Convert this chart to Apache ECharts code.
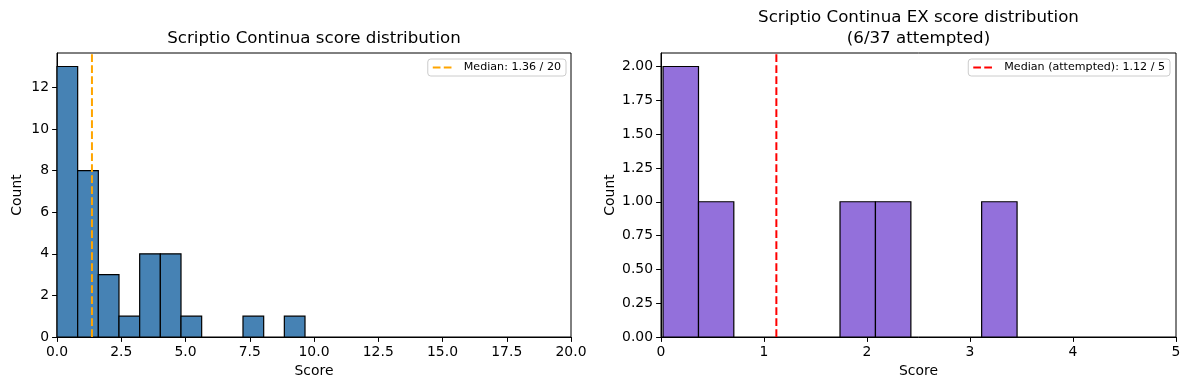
<!DOCTYPE html>
<html><head><meta charset="utf-8">
<script src="https://cdn.jsdelivr.net/npm/echarts@6/dist/echarts.min.js"></script>
<style>html,body{margin:0;padding:0;background:#fff}#c{width:1189px;height:390px}</style>
</head><body><div id="c"></div>
<script>
// ---- data ----
const leftBinEdges = [0, 0.804, 1.608, 2.412, 3.217, 4.021, 4.825, 5.629, 6.433, 7.237, 8.042, 8.846, 9.65];
const leftCounts = [13, 8, 3, 1, 4, 4, 1, 0, 0, 1, 0, 1];
const leftMedian = 1.36;
const leftLegend = 'Median: 1.36 / 20';
const rightBinEdges = [0.02, 0.364, 0.707, 1.051, 1.395, 1.738, 2.082, 2.426, 2.769, 3.113, 3.457];
const rightCounts = [2, 1, 0, 0, 0, 1, 1, 0, 0, 1];
const rightMedian = 1.12;
const rightLegend = 'Median (attempted): 1.12 / 5';
const leftXTicks = [0, 2.5, 5, 7.5, 10, 12.5, 15, 17.5, 20];
const leftYTicks = [0, 2, 4, 6, 8, 10, 12];
const rightXTicks = [0, 1, 2, 3, 4, 5];
const rightYTicks = [0, 0.25, 0.5, 0.75, 1, 1.25, 1.5, 1.75, 2];
const leftTitle = 'Scriptio Continua score distribution';
const rightTitle = 'Scriptio Continua EX score distribution\n(6/37 attempted)';

const FONT = 'DejaVu Sans';
const leftYMax = Math.max(...leftCounts) * 1.05;
const rightYMax = Math.max(...rightCounts) * 1.05;

function bins(edges, counts) {
  return counts.map((c, i) => [edges[i], edges[i + 1], c]);
}
function makeRender(color) {
  return function (params, api) {
    const c = api.value(2);
    if (!c) return null;
    const p0 = api.coord([api.value(0), c]);
    const p1 = api.coord([api.value(1), 0]);
    return {
      type: 'rect',
      shape: { x: p0[0], y: p0[1], width: p1[0] - p0[0], height: p1[1] - p0[1] },
      style: { fill: color, stroke: '#000', lineWidth: 1.2 }
    };
  };
}
function xAxis(idx, min, max, ticks, dec) {
  return {
    type: 'value', gridIndex: idx, min: min, max: max,
    name: 'Score', nameLocation: 'middle', nameGap: 27,
    nameTextStyle: { fontFamily: FONT, fontSize: 13.9, color: '#000' },
    axisLine: { show: true, lineStyle: { color: '#000', width: 1 } },
    axisTick: { show: true, length: 4.9, lineStyle: { color: '#000', width: 1 }, customValues: ticks },
    axisLabel: { fontFamily: FONT, fontSize: 13.9, color: '#000', margin: 8, customValues: ticks,
      formatter: v => v.toFixed(dec) },
    splitLine: { show: false }
  };
}
function yAxis(idx, max, ticks, dec, gap) {
  return {
    type: 'value', gridIndex: idx, min: 0, max: max,
    name: 'Count', nameLocation: 'middle', nameGap: gap,
    nameTextStyle: { fontFamily: FONT, fontSize: 13.9, color: '#000' },
    axisLine: { show: true, lineStyle: { color: '#000', width: 1 } },
    axisTick: { show: true, length: 4.9, lineStyle: { color: '#000', width: 1 }, customValues: ticks },
    axisLabel: { fontFamily: FONT, fontSize: 13.9, color: '#000', margin: 8, customValues: ticks,
      formatter: v => v.toFixed(dec) },
    splitLine: { show: false }
  };
}
function legend(name, right) {
  return {
    data: [name], right: right, top: 59, orient: 'vertical',
    itemWidth: 20, itemHeight: 11, padding: [3, 5, 3, 4],
    borderColor: '#cccccc', borderWidth: 1, borderRadius: 3,
    backgroundColor: 'rgba(255,255,255,0.8)',
    itemStyle: { opacity: 0 },
    textStyle: { fontFamily: FONT, fontSize: 11.1, color: '#000', padding: [0, 0, 0, 6] },
    selectedMode: false
  };
}

const chart = echarts.init(document.getElementById('c'));
chart.setOption({
  animation: false,
  backgroundColor: '#fff',
  grid: [
    { left: 57, right: 618, top: 53, bottom: 53, show: true, borderColor: '#000', borderWidth: 1, backgroundColor: 'transparent' },
    { left: 661, right: 13, top: 53, bottom: 53, show: true, borderColor: '#000', borderWidth: 1, backgroundColor: 'transparent' }
  ],
  xAxis: [xAxis(0, 0, 20, leftXTicks, 1), xAxis(1, 0, 5, rightXTicks, 0)],
  yAxis: [yAxis(0, leftYMax, leftYTicks, 0, 33), yAxis(1, rightYMax, rightYTicks, 2, 44)],
  legend: [legend(leftLegend, 623), legend(rightLegend, 19)],
  graphic: [
    { type: 'text', x: 314, y: 39, style: { text: leftTitle, font: '16.67px "DejaVu Sans"', fill: '#000', textAlign: 'center', textVerticalAlign: 'middle' } },
    { type: 'text', x: 918.5, y: 28, style: { text: rightTitle, font: '16.67px "DejaVu Sans"', fill: '#000', textAlign: 'center', textVerticalAlign: 'middle', lineHeight: 21 } }
  ],
  series: [
    { type: 'custom', xAxisIndex: 0, yAxisIndex: 0, renderItem: makeRender('#4682b4'),
      encode: { x: [0, 1], y: 2 }, data: bins(leftBinEdges, leftCounts), silent: true },
    { type: 'custom', xAxisIndex: 1, yAxisIndex: 1, renderItem: makeRender('#9370db'),
      encode: { x: [0, 1], y: 2 }, data: bins(rightBinEdges, rightCounts), silent: true },
    { type: 'line', name: leftLegend, xAxisIndex: 0, yAxisIndex: 0, symbol: 'none', silent: true, z: 5,
      lineStyle: { color: '#ffa500', width: 2, type: [7.7, 3.3] }, itemStyle: { color: '#ffa500' },
      data: [[leftMedian, 0], [leftMedian, leftYMax]] },
    { type: 'line', name: rightLegend, xAxisIndex: 1, yAxisIndex: 1, symbol: 'none', silent: true, z: 5,
      lineStyle: { color: '#ff0000', width: 2, type: [7.7, 3.3] }, itemStyle: { color: '#ff0000' },
      data: [[rightMedian, 0], [rightMedian, rightYMax]] }
  ]
});
</script></body></html>
